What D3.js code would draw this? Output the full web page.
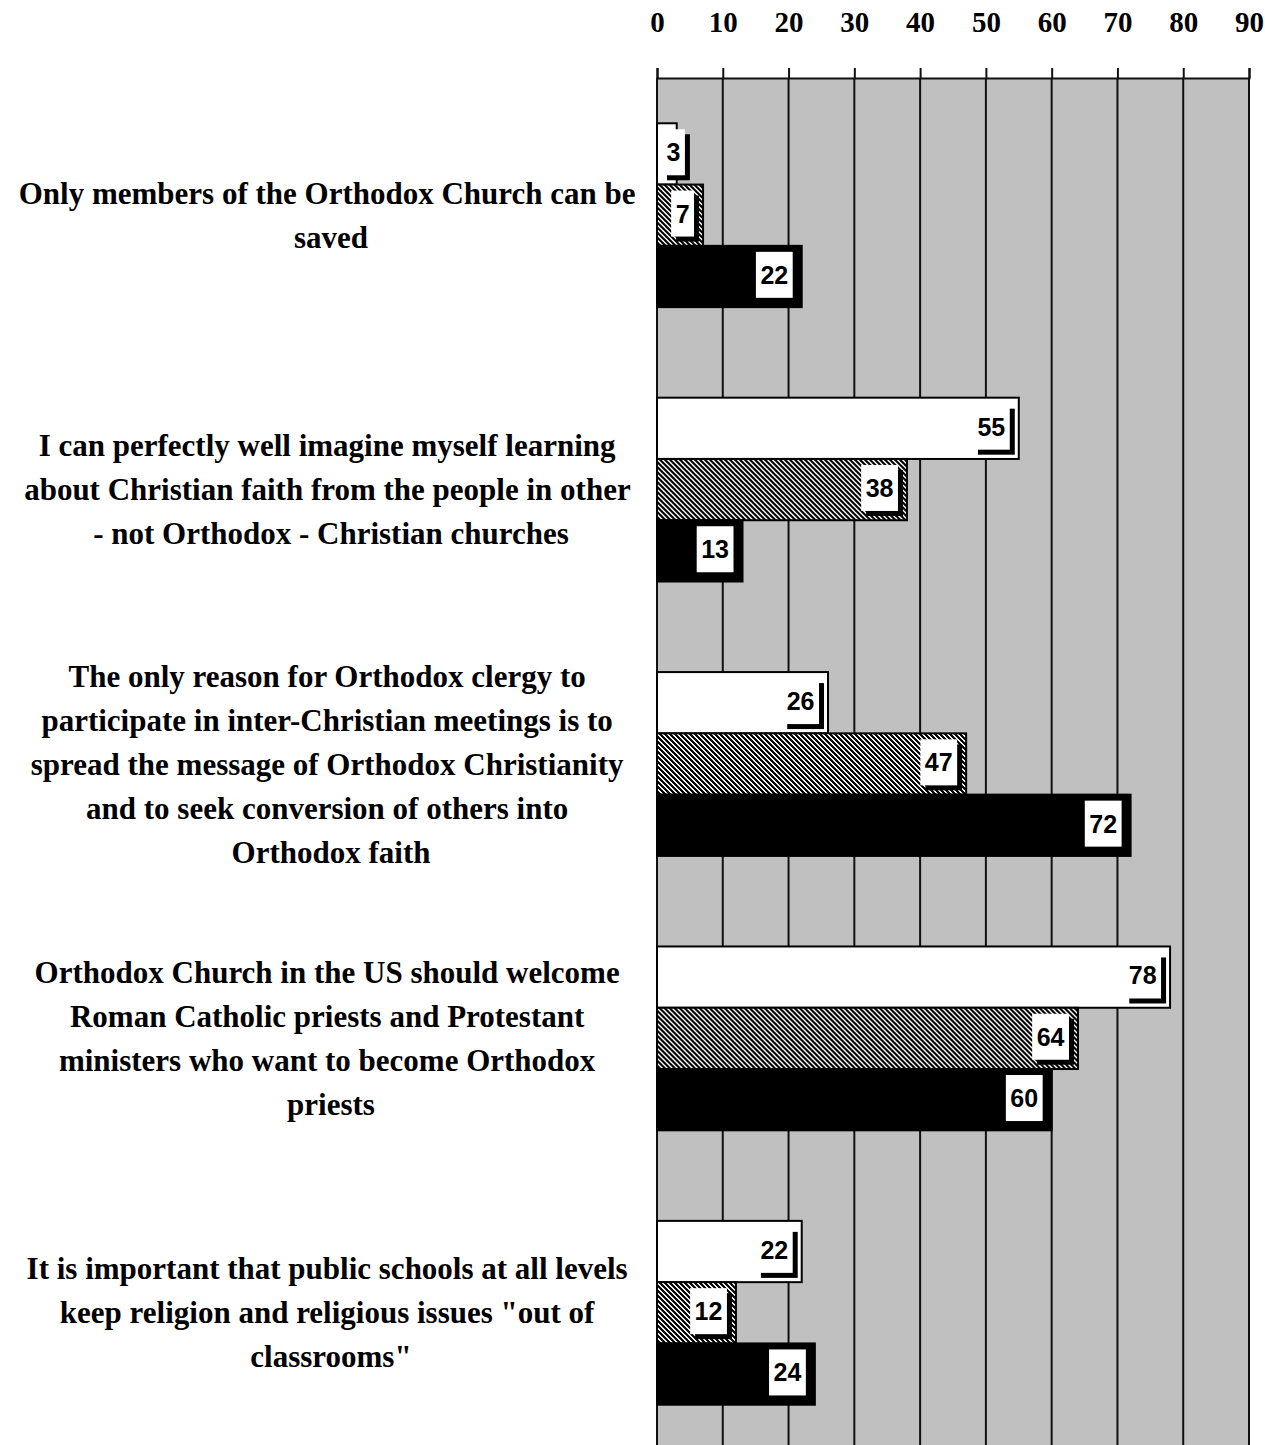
<!DOCTYPE html>
<html>
<head>
<meta charset="utf-8">
<script src="https://cdn.jsdelivr.net/npm/d3@7/dist/d3.min.js"></script>
<style>
    body { margin: 0; background: #fff; }
    .cat-label { font-family: "Liberation Serif", serif; font-weight: bold; font-size: 31px; fill: #000; white-space: pre; }
    .axis text { font-family: "Liberation Serif", serif; font-weight: bold; font-size: 29px; fill: #000; }
    .value-label { font-family: "Liberation Sans", Arial, sans-serif; font-weight: bold; font-size: 25px; fill: #000; }
</style>
</head>
<body>
<div id="chart"></div>
<script>

// Data
// (wrapped lines keep their trailing space, like the original word-wrap)
var categories = [
    ["Only members of the Orthodox Church can be ", "saved"],
    ["I can perfectly well imagine myself learning ", "about Christian faith from the people in other ", "- not Orthodox - Christian churches"],
    ["The only reason for Orthodox clergy to ", "participate in inter-Christian meetings is to ", "spread the message of Orthodox Christianity ", "and to seek conversion of others into ", "Orthodox faith"],
    ["Orthodox Church in the US should welcome ", "Roman Catholic priests and Protestant ", "ministers who want to become Orthodox ", "priests"],
    ["It is important that public schools at all levels ", "keep religion and religious issues \"out of ", "classrooms\""]
];

var seriesKeys = ["white", "hatched", "black"];

var whiteValues   = [3, 55, 26, 78, 22];
var hatchedValues = [7, 38, 47, 64, 12];
var blackValues   = [22, 13, 72, 60, 24];

var tickValues = [0, 10, 20, 30, 40, 50, 60, 70, 80, 90];

// build rows for the grouped bars
var data = categories.map(function(c, i) {
    return { cat: i, white: whiteValues[i], hatched: hatchedValues[i], black: blackValues[i] };
});


var vis = {};

vis.margin = { top: 78, right: 16, bottom: -5, left: 657 };
vis.width = 1265 - vis.margin.left - vis.margin.right,
    vis.height = 1445 - vis.margin.top - vis.margin.bottom;

vis.svgRoot = d3.select("#chart").append("svg")
    .attr("width", 1265)
    .attr("height", 1445);

vis.svg = vis.svgRoot.append("g")
    .attr("transform", "translate(" + vis.margin.left + "," + vis.margin.top + ")");

// Hatch pattern for the middle series ("\" stripes, pixel steps)
var defs = vis.svgRoot.append("defs");
var hatchSize = 5;
var pattern = defs.append("pattern")
    .attr("id", "hatch")
    .attr("patternUnits", "userSpaceOnUse")
    .attr("width", hatchSize)
    .attr("height", hatchSize);
pattern.append("rect")
    .attr("width", hatchSize).attr("height", hatchSize)
    .attr("fill", "#fff");
pattern.selectAll(".px")
    .data(d3.cross(d3.range(hatchSize), d3.range(hatchSize)).filter(function(p) {
        return ((p[0] - p[1] + hatchSize) % hatchSize) < 3;
    }))
    .enter().append("rect")
    .attr("x", function(p) { return p[0]; })
    .attr("y", function(p) { return p[1]; })
    .attr("width", 1)
    .attr("height", 1)
    .attr("fill", "#000")
    .attr("shape-rendering", "crispEdges");

var fills = { white: "#fff", hatched: "url(#hatch)", black: "#000" };


// Scales and axes
vis.x = d3.scaleLinear()
    .domain([0, 90])
    .range([0, vis.width]);

vis.y = d3.scaleBand()
    .domain(d3.range(categories.length))
    .range([0, vis.height])
    .paddingInner(0.33)
    .paddingOuter(0.165);

vis.y1 = d3.scaleBand()
    .domain(seriesKeys)
    .range([0, vis.y.bandwidth()]);

// plot background
vis.svg.append("rect")
    .attr("x", 0)
    .attr("y", 0)
    .attr("width", vis.x(90))
    .attr("height", vis.height)
    .attr("fill", "#c0c0c0");

// vertical grid lines
vis.svg.selectAll(".grid")
    .data(tickValues)
    .enter().append("line")
    .attr("class", "grid")
    .attr("x1", function(d) { return vis.x(d); })
    .attr("x2", function(d) { return vis.x(d); })
    .attr("y1", 0)
    .attr("y2", vis.height)
    .attr("stroke", "#111")
    .attr("stroke-width", 2);

vis.xAxis = d3.axisTop(vis.x)
    .tickValues(tickValues)
    .tickSize(10)
    .tickPadding(36)
    .tickFormat(d3.format("d"));

vis.svg.append("g")
    .attr("class", "x-axis axis")
    .call(vis.xAxis)
    .call(function(g) {
        g.select(".domain").attr("stroke", "#111").attr("stroke-width", 2);
        g.selectAll(".tick line").attr("stroke", "#111").attr("stroke-width", 2);
    });


// Category labels (centred on each group)
var lineHeight = 44;
var catGroups = vis.svgRoot.selectAll(".cat")
    .data(categories)
    .enter().append("text")
    .attr("class", "cat-label")
    .attr("text-anchor", "middle");

catGroups.each(function(lines, i) {
    var cy = vis.margin.top + vis.y(i) + vis.y.bandwidth() / 2;
    var n = lines.length;
    d3.select(this).selectAll("tspan")
        .data(lines)
        .enter().append("tspan")
        .attr("x", 331)
        .attr("y", function(d, j) { return cy + (j - (n - 1) / 2) * lineHeight; })
        .attr("dy", "0.34em")
        .text(function(d) { return d; });
});


// Draw the bars
var groups = vis.svg.selectAll(".group")
    .data(data)
    .enter().append("g")
    .attr("class", "group")
    .attr("transform", function(d) { return "translate(0," + vis.y(d.cat) + ")"; });

var bars = groups.selectAll(".bar")
    .data(function(d) {
        return seriesKeys.map(function(k) { return { key: k, value: d[k] }; });
    })
    .enter().append("g")
    .attr("class", "bar");

bars.append("rect")
    .attr("x", 0)
    .attr("y", function(d) { return vis.y1(d.key); })
    .attr("width", function(d) { return vis.x(d.value); })
    .attr("height", vis.y1.bandwidth())
    .attr("fill", function(d) { return fills[d.key]; })
    .attr("stroke", "#000")
    .attr("stroke-width", 2);

// Value labels: white box with a black drop shadow
var boxH = 46, shadow = 5;
bars.each(function(d) {
    var g = d3.select(this);
    var txt = g.append("text")
        .attr("class", "value-label")
        .attr("text-anchor", "middle")
        .text(d.value);
    var tw = txt.node().getComputedTextLength();
    var boxW = tw + 9;
    var right = vis.x(d.value) - 9;
    var left = Math.max(right - boxW, vis.x(0) + 5);
    var top = vis.y1(d.key) + 6;

    g.insert("rect", "text")
        .attr("x", left + shadow)
        .attr("y", top + shadow)
        .attr("width", boxW)
        .attr("height", boxH)
        .attr("fill", "#000");
    g.insert("rect", "text")
        .attr("x", left)
        .attr("y", top)
        .attr("width", boxW)
        .attr("height", boxH)
        .attr("fill", "#fff");
    txt.attr("x", left + boxW / 2)
        .attr("y", top + boxH / 2 + 9);
});

</script>
</body>
</html>
